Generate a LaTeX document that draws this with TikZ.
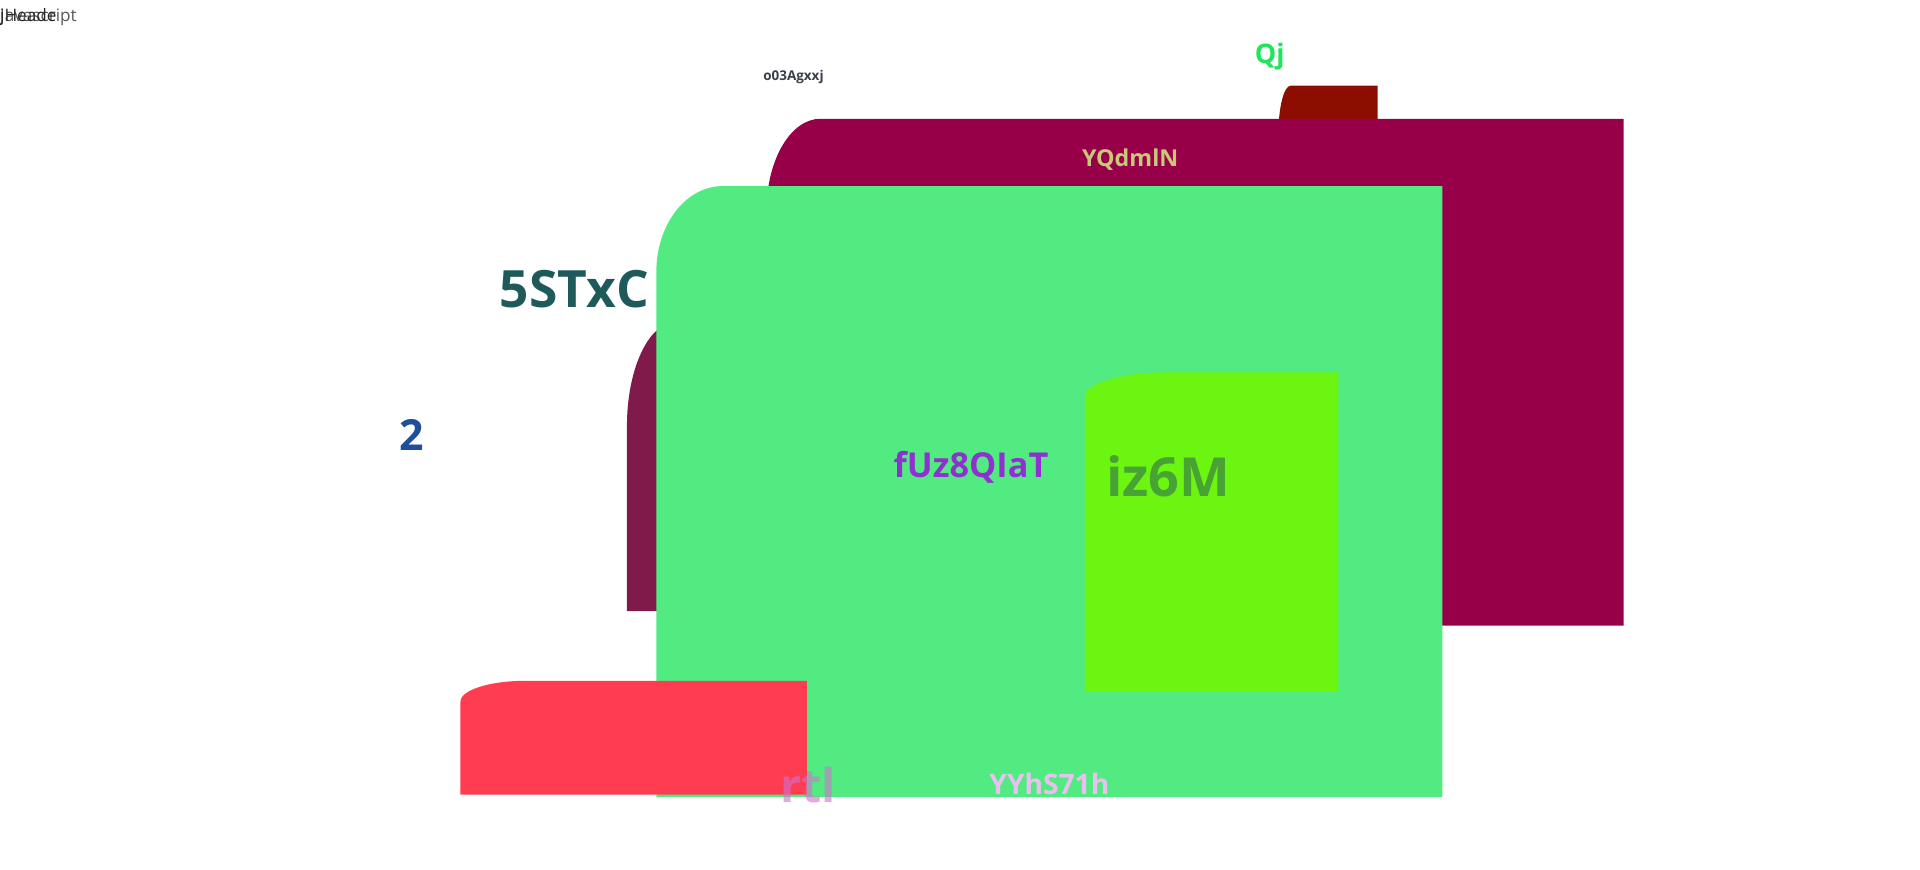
\documentclass[tikz,border=0pt]{standalone}
\usepackage{fontspec}
\setmainfont{Open Sans}
\usetikzlibrary{positioning}
\tikzset{
lbl/.style={
  inner sep=0pt,
  font=\bfseries
  }
}
\newcommand{\tabbox}[7]{%
  \fill[#7] (#1,#4) -- (#1,#2+#6)
    arc[start angle=180, end angle=90, x radius=#5pt, y radius=#6pt]
    -- (#3,#2) -- (#3,#4) -- cycle;}

\definecolor{darkred}{HTML}{8B0E00}
\definecolor{berry}{HTML}{970049}
\definecolor{plum}{HTML}{801A4A}
\definecolor{mint}{HTML}{52EB82}
\definecolor{lime}{HTML}{6CF510}
\definecolor{coral}{HTML}{FF3C50}

\begin{document}
\begin{tikzpicture}[x=1pt,y=-1pt]
\useasboundingbox (0,0) rectangle (1568,710);

\tabbox{1044}{70}{1125}{140}{10}{40}{darkred}
\tabbox{626}{97}{1326}{511}{44}{75}{berry}
\tabbox{512}{263}{700}{499}{40}{85}{plum}
\tabbox{536}{152}{1178}{651}{54}{70}{mint}
\tabbox{886}{304}{1093}{565}{69}{20}{lime}
\tabbox{376}{556}{659}{649}{53}{17}{coral}

% top left labels
\node[anchor=west,inner sep=0pt,font=\fontsize{14}{14}\selectfont,text=black!65]
  (lblScript) at (0,14) {Javascript};
\node[anchor=west,inner sep=0pt,font=\fontsize{14}{14}\selectfont,text=black!85]
  (lblHead) at (0,14) {jHeade};

\node[lbl,font=\bfseries\fontsize{11}{11}\selectfont,text={rgb,255:red,58;green,63;blue,74}]
  (lblSmall) at (648,63) {o03Agxxj};
\node[lbl,font=\bfseries\fontsize{22}{22}\selectfont,text={rgb,255:red,30;green,230;blue,90}]
  (lblQj) at (1037,46) {Qj};
\node[lbl,font=\bfseries\fontsize{19}{19}\selectfont,text={rgb,255:red,200;green,200;blue,122}]
  (lblTab) at (923,130) {YQdmlN};
\node[lbl,font=\bfseries\fontsize{42}{42}\selectfont,text={rgb,255:red,31;green,90;blue,90}]
  (lblBig) at (469,236) {5STxC};
\node[lbl,font=\bfseries\fontsize{35}{35}\selectfont,text={rgb,255:red,31;green,78;blue,154}]
  (lblTwo) at (336,355) {2};
\node[lbl,font=\bfseries\fontsize{28}{28}\selectfont,text={rgb,255:red,144;green,48;blue,208}]
  (lblMid) at (793,382) {fUz8QIaT};
\node[lbl,font=\bfseries\fontsize{44}{44}\selectfont,text={rgb,255:red,72;green,163;blue,53}]
  (lblLime) at (954,389) {iz6M};
\node[lbl,font=\bfseries\fontsize{38}{38}\selectfont,text={rgb,255:red,208;green,112;blue,208},text opacity=0.6,anchor=base]
  (lblRtl) at (660,655) {rtl};
\node[lbl,font=\bfseries\fontsize{23}{23}\selectfont,text={rgb,255:red,235;green,192;blue,240}]
  (lblFoot) at (857,640) {YYhS71h};
\end{tikzpicture}
\end{document}
